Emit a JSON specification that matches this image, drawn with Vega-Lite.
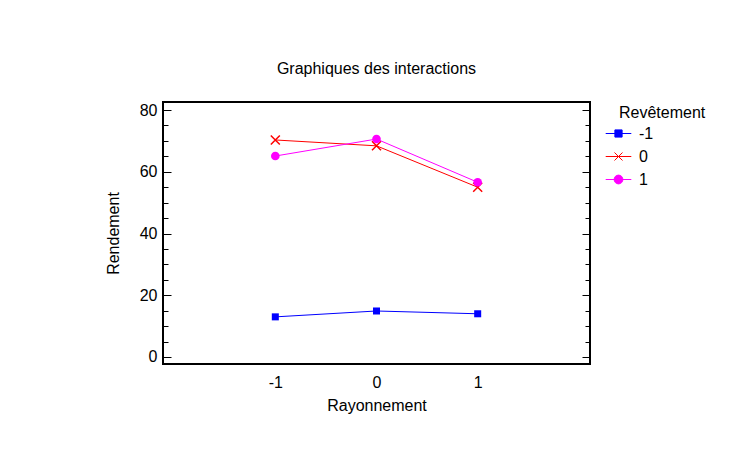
{
  "$schema": "https://vega.github.io/schema/vega-lite/v6.json",
  "width": 427,
  "height": 262,
  "autosize": {"type": "none"},
  "padding": {"left": 163, "top": 102, "right": 140, "bottom": 87},
  "background": "white",
  "config": {
    "font": "Arial, Liberation Sans, sans-serif",
    "view": {"stroke": "black", "strokeWidth": 2},
    "axis": {
      "grid": false,
      "labelFont": "Arial, Liberation Sans, sans-serif",
      "titleFont": "Arial, Liberation Sans, sans-serif",
      "labelFontSize": 16,
      "titleFontSize": 16,
      "titleFontWeight": "normal",
      "labelColor": "black",
      "titleColor": "black",
      "tickColor": "black",
      "tickWidth": 1
    }
  },
  "title": {
    "text": "Graphiques des interactions",
    "font": "Arial, Liberation Sans, sans-serif",
    "fontSize": 16,
    "fontWeight": "normal",
    "color": "black",
    "frame": "group",
    "anchor": "middle",
    "offset": 25
  },
  "data": {
    "values": [
      {"Rayonnement": -1, "Revêtement": "-1", "Rendement": 13.0},
      {"Rayonnement": 0, "Revêtement": "-1", "Rendement": 14.9},
      {"Rayonnement": 1, "Revêtement": "-1", "Rendement": 14.0},
      {"Rayonnement": -1, "Revêtement": "0", "Rendement": 70.3},
      {"Rayonnement": 0, "Revêtement": "0", "Rendement": 68.4},
      {"Rayonnement": 1, "Revêtement": "0", "Rendement": 55.0},
      {"Rayonnement": -1, "Revêtement": "1", "Rendement": 65.1},
      {"Rayonnement": 0, "Revêtement": "1", "Rendement": 70.6},
      {"Rayonnement": 1, "Revêtement": "1", "Rendement": 56.6}
    ]
  },
  "encoding": {
    "x": {
      "field": "Rayonnement",
      "type": "quantitative",
      "scale": {"domain": [-2.11, 2.11], "nice": false, "zero": false},
      "axis": {
        "title": "Rayonnement",
        "values": [-1, 0, 1],
        "ticks": false,
        "tickSize": 0,
        "domain": false,
        "labelPadding": 10,
        "titlePadding": 7,
        "labelExpr": "toString(datum.value)"
      }
    }
  },
  "layer": [
    {
      "mark": {"type": "point", "filled": true, "opacity": 0},
      "encoding": {
        "y": {
          "field": "Rendement",
          "type": "quantitative",
          "scale": {"domain": [-2.27, 82.6], "nice": false, "zero": false},
          "axis": {
            "orient": "left",
            "title": "Rendement",
            "values": [0, 5, 10, 15, 20, 25, 30, 35, 40, 45, 50, 55, 60, 65, 70, 75, 80],
            "labelExpr": "datum.value % 20 == 0 ? toString(datum.value) : ''",
            "domain": false,
            "tickSize": {"condition": {"test": "datum.value % 20 == 0", "value": -8}, "value": -5},
            "labelPadding": 14,
            "titlePadding": 18
          }
        },
        "shape": {
          "field": "Revêtement",
          "type": "nominal",
          "scale": {
            "domain": ["-1", "0", "1"],
            "range": [
              "M-1.6,0H1.6M-0.45,-0.45H0.45V0.45H-0.45Z",
              "M-1.6,0H1.6M-0.5,-0.5L0.5,0.5M-0.5,0.5L0.5,-0.5",
              "M-1.6,0H1.6M-0.55,0A0.55,0.55,0,1,0,0.55,0A0.55,0.55,0,1,0,-0.55,0Z"
            ]
          },
          "legend": {
            "title": "Revêtement",
            "orient": "none",
            "legendX": 456,
            "legendY": 3,
            "symbolOffset": -9,
            "symbolSize": 256,
            "symbolStrokeWidth": 1,
            "symbolOpacity": 1,
            "labelFont": "Arial, Liberation Sans, sans-serif",
            "titleFont": "Arial, Liberation Sans, sans-serif",
            "labelFontSize": 16,
            "titleFontSize": 16,
            "titleFontWeight": "normal",
            "labelColor": "black",
            "titleColor": "black",
            "labelOffset": 12,
            "rowPadding": 6,
            "titlePadding": 4
          }
        },
        "fill": {
          "field": "Revêtement",
          "type": "nominal",
          "scale": {"domain": ["-1", "0", "1"], "range": ["#0000ff", "#ff0000", "#ff00ff"]}
        },
        "stroke": {
          "field": "Revêtement",
          "type": "nominal",
          "scale": {"domain": ["-1", "0", "1"], "range": ["#0000ff", "#ff0000", "#ff00ff"]}
        }
      }
    },
    {
      "mark": {"type": "point", "opacity": 0},
      "encoding": {
        "y": {
          "field": "Rendement",
          "type": "quantitative",
          "scale": {"domain": [-2.27, 82.6], "nice": false, "zero": false},
          "axis": {
            "orient": "right",
            "title": null,
            "labels": false,
            "domain": false,
            "values": [0, 5, 10, 15, 20, 25, 30, 35, 40, 45, 50, 55, 60, 65, 70, 75, 80],
            "tickSize": {"condition": {"test": "datum.value % 20 == 0", "value": -8}, "value": -5}
          }
        }
      }
    },
    {
      "transform": [{"filter": {"field": "Revêtement", "equal": "-1"}}],
      "encoding": {
        "y": {"field": "Rendement", "type": "quantitative", "scale": {"domain": [-2.27, 82.6], "nice": false, "zero": false}, "axis": null}
      },
      "layer": [
        {"mark": {"type": "line", "strokeWidth": 1, "color": "#0000ff"}},
        {"mark": {"type": "point", "shape": "M-0.78,-0.78H0.78V0.78H-0.78Z", "size": 81, "filled": true, "color": "#0000ff", "opacity": 1}}
      ]
    },
    {
      "transform": [{"filter": {"field": "Revêtement", "equal": "0"}}],
      "encoding": {
        "y": {"field": "Rendement", "type": "quantitative", "scale": {"domain": [-2.27, 82.6], "nice": false, "zero": false}, "axis": null}
      },
      "layer": [
        {"mark": {"type": "line", "strokeWidth": 1, "color": "#ff0000"}},
        {"mark": {"type": "point", "shape": "M-1,-1L1,1M-1,1L1,-1", "size": 81, "filled": false, "color": "#ff0000", "strokeWidth": 1.5, "opacity": 1}}
      ]
    },
    {
      "transform": [{"filter": {"field": "Revêtement", "equal": "1"}}],
      "encoding": {
        "y": {"field": "Rendement", "type": "quantitative", "scale": {"domain": [-2.27, 82.6], "nice": false, "zero": false}, "axis": null}
      },
      "layer": [
        {"mark": {"type": "line", "strokeWidth": 1, "color": "#ff00ff"}},
        {"mark": {"type": "point", "shape": "circle", "size": 75, "filled": true, "color": "#ff00ff", "opacity": 1}}
      ]
    }
  ],
  "resolve": {"axis": {"y": "independent"}}
}
